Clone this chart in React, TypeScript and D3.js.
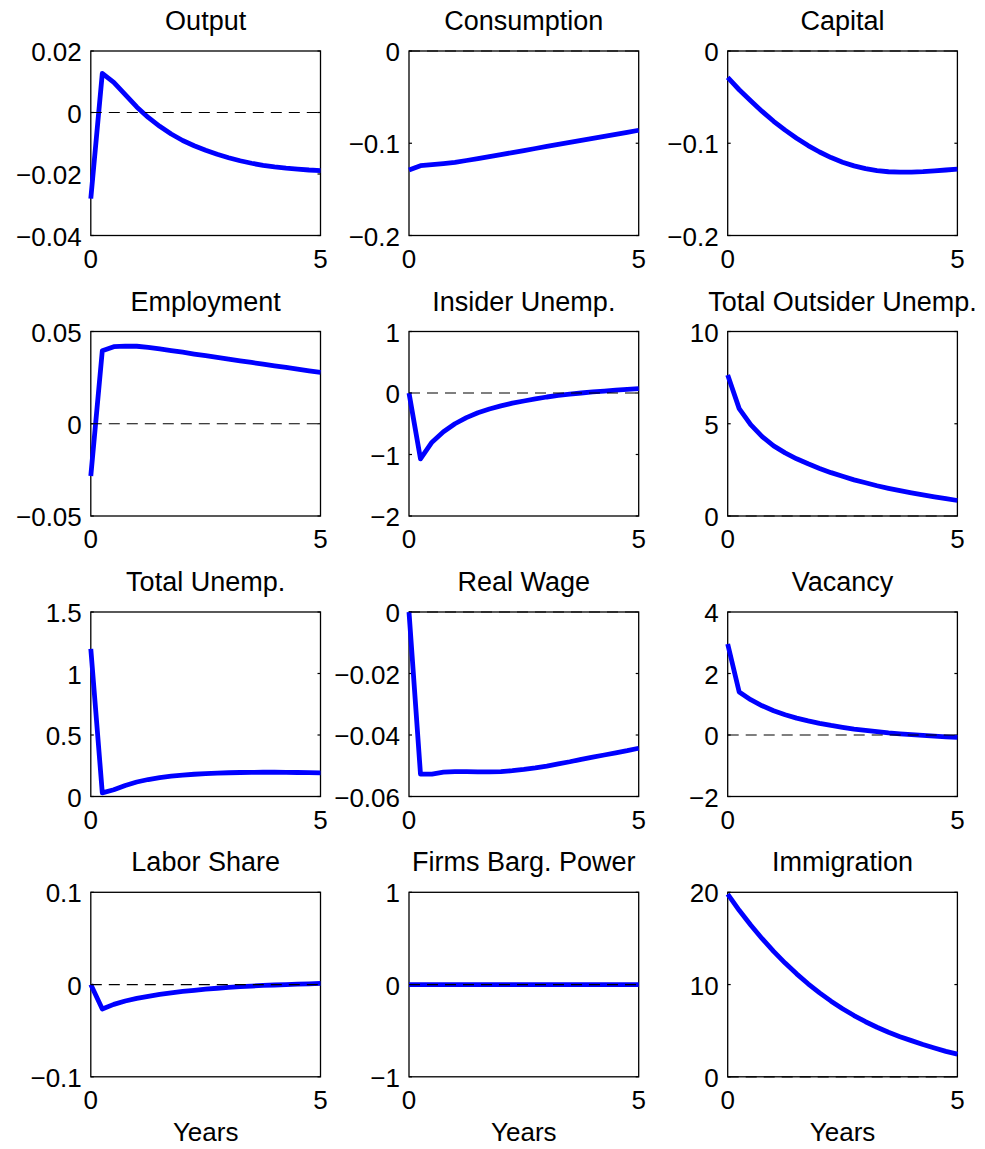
import React from 'react';
import * as d3 from 'd3';

// Quarterly horizon, in years
const years = [0, 0.25, 0.5, 0.75, 1, 1.25, 1.5, 1.75, 2, 2.25, 2.5, 2.75, 3, 3.25, 3.5, 3.75, 4, 4.25, 4.5, 4.75, 5];

// Impulse responses, one value per quarter
const output = [-0.028, 0.0127, 0.0098, 0.0058, 0.0018, -0.0016, -0.0045, -0.007, -0.0091, -0.0108, -0.0123, -0.0136, -0.0147, -0.0157, -0.0165, -0.0172, -0.0177, -0.0181, -0.0184, -0.0187, -0.0189];
const consumption = [-0.129, -0.1243, -0.1232, -0.122, -0.1207, -0.1187, -0.1166, -0.1145, -0.1123, -0.1101, -0.1079, -0.1057, -0.1035, -0.1013, -0.0991, -0.0969, -0.0947, -0.0925, -0.0903, -0.0881, -0.0859];
const capital = [-0.0287, -0.042, -0.054, -0.0655, -0.0762, -0.0858, -0.0945, -0.1025, -0.1095, -0.1155, -0.1205, -0.1245, -0.1275, -0.1296, -0.1309, -0.1314, -0.1313, -0.1308, -0.13, -0.129, -0.128];
const employment = [-0.0283, 0.0395, 0.0418, 0.0421, 0.042, 0.0414, 0.0406, 0.0397, 0.0388, 0.0378, 0.0369, 0.036, 0.035, 0.0341, 0.0332, 0.0323, 0.0314, 0.0305, 0.0296, 0.0287, 0.0278];
const insiderUnemp = [0, -1.07, -0.8, -0.63, -0.5, -0.4, -0.32, -0.26, -0.21, -0.165, -0.13, -0.095, -0.065, -0.04, -0.018, 0, 0.017, 0.032, 0.046, 0.06, 0.072];
const outsiderUnemp = [7.64, 5.82, 4.95, 4.3, 3.8, 3.42, 3.1, 2.83, 2.58, 2.35, 2.15, 1.96, 1.8, 1.64, 1.5, 1.37, 1.25, 1.14, 1.04, 0.94, 0.84];
const totalUnemp = [1.2, 0.03, 0.055, 0.09, 0.118, 0.138, 0.153, 0.165, 0.174, 0.181, 0.186, 0.19, 0.193, 0.195, 0.196, 0.197, 0.197, 0.196, 0.195, 0.194, 0.192];
const realWage = [0, -0.0527, -0.0527, -0.0521, -0.0519, -0.0519, -0.052, -0.052, -0.0519, -0.0516, -0.0512, -0.0507, -0.0501, -0.0494, -0.0487, -0.0479, -0.0472, -0.0465, -0.0458, -0.0451, -0.0443];
const vacancy = [2.96, 1.4, 1.15, 0.95, 0.79, 0.66, 0.55, 0.46, 0.38, 0.31, 0.25, 0.19, 0.15, 0.11, 0.07, 0.04, 0.01, -0.015, -0.04, -0.06, -0.08];
const laborShare = [0, -0.0265, -0.0215, -0.0178, -0.015, -0.0127, -0.0107, -0.009, -0.0075, -0.0062, -0.005, -0.004, -0.0031, -0.0023, -0.0016, -0.001, -0.0005, 0, 0.0004, 0.0008, 0.0012];
const firmsBargPower = [0, 0, 0, 0, 0, 0, 0, 0, 0, 0, 0, 0, 0, 0, 0, 0, 0, 0, 0, 0, 0];
const immigration = [19.8, 18.05, 16.45, 14.97, 13.6, 12.33, 11.16, 10.08, 9.1, 8.2, 7.38, 6.64, 5.97, 5.37, 4.83, 4.35, 3.92, 3.5, 3.12, 2.76, 2.45];

const titles = [
  'Output', 'Consumption', 'Capital',
  'Employment', 'Insider Unemp.', 'Total Outsider Unemp.',
  'Total Unemp.', 'Real Wage', 'Vacancy',
  'Labor Share', 'Firms Barg. Power', 'Immigration',
];

const seriesList = [
  output, consumption, capital,
  employment, insiderUnemp, outsiderUnemp,
  totalUnemp, realWage, vacancy,
  laborShare, firmsBargPower, immigration,
];

const yLimits: [number, number][] = [
  [-0.04, 0.02], [-0.2, 0], [-0.2, 0],
  [-0.05, 0.05], [-2, 1], [0, 10],
  [0, 1.5], [-0.06, 0], [-2, 4],
  [-0.1, 0.1], [-1, 1], [0, 20],
];

const yTickValues = [
  [-0.04, -0.02, 0, 0.02], [-0.2, -0.1, 0], [-0.2, -0.1, 0],
  [-0.05, 0, 0.05], [-2, -1, 0, 1], [0, 5, 10],
  [0, 0.5, 1, 1.5], [-0.06, -0.04, -0.02, 0], [-2, 0, 2, 4],
  [-0.1, 0, 0.1], [-1, 0, 1], [0, 10, 20],
];

const yTickLabels = [
  ['\u22120.04', '\u22120.02', '0', '0.02'], ['\u22120.2', '\u22120.1', '0'], ['\u22120.2', '\u22120.1', '0'],
  ['\u22120.05', '0', '0.05'], ['\u22122', '\u22121', '0', '1'], ['0', '5', '10'],
  ['0', '0.5', '1', '1.5'], ['\u22120.06', '\u22120.04', '\u22120.02', '0'], ['\u22122', '0', '2', '4'],
  ['\u22120.1', '0', '0.1'], ['\u22121', '0', '1'], ['0', '10', '20'],
];

const xTickValues = [0, 5];
const xTickLabels = ['0', '5'];
const xLabel = 'Years';

const W = 985;
const H = 1149;
const colLeft = [90.8, 409, 727.7];
const plotW = 229.7;
const rowTop = [51, 331.5, 612, 892.3];
const plotH = 184.5;
const FONT = '"Liberation Sans", Arial, Helvetica, sans-serif';
const tickLen = 3;

function Panel({ idx }: { idx: number }) {
  const row = Math.floor(idx / 3);
  const col = idx % 3;
  const x0 = colLeft[col];
  const y0 = rowTop[row];
  const x = d3.scaleLinear().domain([0, 5]).range([x0, x0 + plotW]);
  const y = d3.scaleLinear().domain(yLimits[idx]).range([y0 + plotH, y0]);
  const values = seriesList[idx];
  const line = d3
    .line<number>()
    .x((_, i) => x(years[i]))
    .y((v) => y(v));
  const path = line(values) || '';
  const isBottom = row === 3;

  return (
    <g>
      {/* axes box */}
      <rect x={x0} y={y0} width={plotW} height={plotH} fill="#fff" stroke="#000" strokeWidth={1.3} />
      {/* inward tick marks on both vertical sides */}
      {yTickValues[idx].map((t, i) => (
        <g key={'yt' + i}>
          <line x1={x0} x2={x0 + tickLen} y1={y(t)} y2={y(t)} stroke="#000" strokeWidth={1.2} />
          <line x1={x0 + plotW - tickLen} x2={x0 + plotW} y1={y(t)} y2={y(t)} stroke="#000" strokeWidth={1.2} />
        </g>
      ))}
      {/* response path */}
      <path d={path} fill="none" stroke="#0000ff" strokeWidth={4.8} strokeLinejoin="round" />
      {/* zero reference */}
      <line
        x1={x(0)}
        x2={x(5)}
        y1={y(0)}
        y2={y(0)}
        stroke="#000"
        strokeWidth={1.2}
        strokeDasharray="11,7"
      />
      {/* y tick labels */}
      {yTickValues[idx].map((t, i) => (
        <text
          key={'yl' + i}
          x={x0 - 9}
          y={y(t) + 10}
          textAnchor="end"
          fontFamily={FONT}
          fontSize={26}
          fill="#000"
        >
          {yTickLabels[idx][i]}
        </text>
      ))}
      {/* x tick labels */}
      {xTickValues.map((t, i) => (
        <text
          key={'xl' + i}
          x={x(t)}
          y={y0 + plotH + 32}
          textAnchor="middle"
          fontFamily={FONT}
          fontSize={26}
          fill="#000"
        >
          {xTickLabels[i]}
        </text>
      ))}
      {/* title */}
      <text
        x={x0 + plotW / 2}
        y={y0 - 21}
        textAnchor="middle"
        fontFamily={FONT}
        fontSize={27}
        fill="#000"
      >
        {titles[idx]}
      </text>
      {isBottom && (
        <text
          x={x0 + plotW / 2}
          y={y0 + plotH + 64}
          textAnchor="middle"
          fontFamily={FONT}
          fontSize={26}
          fill="#000"
        >
          {xLabel}
        </text>
      )}
    </g>
  );
}

export default function App() {
  return (
    <svg
      width={W}
      height={H}
      viewBox={`0 0 ${W} ${H}`}
      style={{ position: 'absolute', left: 0, top: 0, background: '#fff' }}
    >
      <rect x={0} y={0} width={W} height={H} fill="#fff" />
      {titles.map((_, i) => (
        <Panel key={i} idx={i} />
      ))}
    </svg>
  );
}
